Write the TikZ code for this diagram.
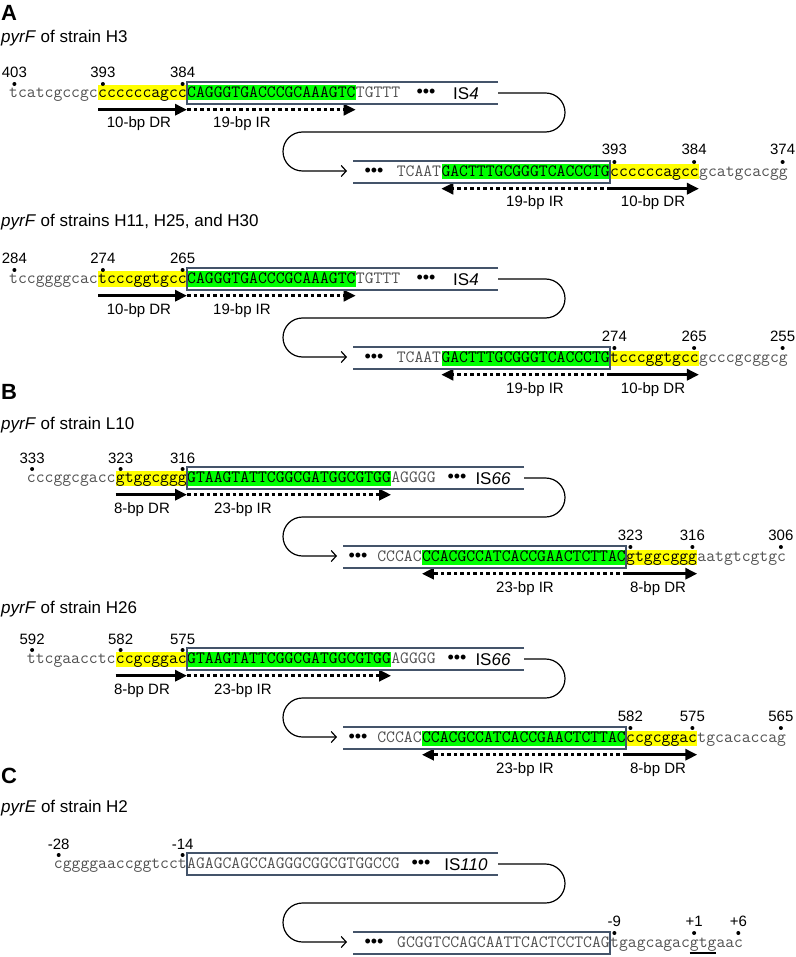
\documentclass[tikz,border=0pt]{standalone}
\usepackage{fontspec}
\setmainfont{Liberation Sans}
\usetikzlibrary{arrows.meta,positioning}
\definecolor{hlyellow}{RGB}{255,255,0}
\definecolor{hlgreen}{RGB}{0,255,0}
\definecolor{isblue}{RGB}{68,84,106}
\definecolor{flankgray}{RGB}{80,80,80}
\def\chw{8.85}
\newcommand{\seqfont}{\fontsize{17.2}{18}\ttfamily}

\begin{document}
\begin{tikzpicture}[x=1pt, y=-1pt,
    seq/.style={font=\seqfont, inner sep=0pt, text height=12pt, text depth=3pt, anchor=west},
    flank/.style={seq, text=flankgray},
    hly/.style={seq, fill=hlyellow, minimum width=#1*\chw},
    hlg/.style={seq, fill=hlgreen, minimum width=#1*\chw},
    ellip/.style={font=\fontsize{18}{18}\selectfont, inner sep=0pt},
    isname/.style={font=\fontsize{17}{18}\selectfont, inner sep=0pt},
    num/.style={font=\fontsize{15}{16}\selectfont, inner sep=0pt, anchor=base},
    pdot/.style={circle, fill, inner sep=0pt, minimum size=4pt},
    lab/.style={font=\fontsize{15}{16}\selectfont, inner sep=0pt, anchor=base},
    title/.style={font=\fontsize{17}{18}\selectfont, inner sep=0pt, anchor=base west},
    panel/.style={font=\fontsize{22}{22}\selectfont\bfseries, inner sep=0pt, anchor=base west},
    boxline/.style={draw=isblue, line width=1.4pt},
    loopline/.style={line width=1.2pt, rounded corners=19.5pt, -{Straight Barb[length=5pt, width=11pt]}},
    drarrow/.style={line width=3pt, -{Triangle[length=12pt, width=11pt]}},
    irarrow/.style={drarrow, dash pattern=on 3.5pt off 3pt}]
  \useasboundingbox (0,0) rectangle (795,957);

  % ---- A ----
  \node[panel] (pa) at (1,21) {A};
  \node[title] (ta1) at (1,43) {\textit{pyrF} of strain H3};
  \node[hlg=19] (a1ir) at (187,93) {CAGGGTGACCCGCAAAGTC};
  \node[hly=10, left=0pt of a1ir] (a1dr) {ccccccagcc};
  \node[flank, left=0pt of a1dr] (a1fl) {tcatcgccgc};
  \node[flank, right=0pt of a1ir] (a1tl) {TGTTT};
  \node[ellip] (a1dt) at (426,93) {•••};
  \node[isname] (a1is) at (466,94) {IS\textit{4}};
  \node[hlg=19, anchor=east] (a1bir) at (610,172) {GACTTTGCGGGTCACCCTG};
  \node[flank, left=0pt of a1bir] (a1btl) {TCAAT};
  \node[ellip] (a1bdt) at (374,172) {•••};
  \node[hly=10, right=0pt of a1bir] (a1bdr) {ccccccagcc};
  \node[flank, right=0pt of a1bdr] (a1bfl) {gcatgcacgg};
  \foreach \x/\t [count=\i] in {14.4/403, 102.9/393, 182.6/384}{
    \node[pdot] (a1d\i) at (\x,84) {};
    \node[num] (a1n\i) at (\x,78) {\t};}
  \foreach \x/\t [count=\i] in {614.4/393, 694.1/384, 782.6/374}{
    \node[pdot] (a1bd\i) at (\x,162) {};
    \node[num] (a1bn\i) at (\x,155) {\t};}
  \draw[drarrow] ([yshift=-9pt]a1dr.south west) -- ([yshift=-9pt]a1dr.south east);
  \draw[irarrow] ([yshift=-9pt]a1ir.south west) -- ([yshift=-9pt]a1ir.south east);
  \draw[irarrow] ([yshift=-9pt]a1bir.south east) -- ([yshift=-9pt]a1bir.south west);
  \draw[drarrow] ([yshift=-9pt]a1bdr.south west) -- ([yshift=-9pt]a1bdr.south east);
  \node[lab] (a1drl) at (139,128) {10-bp DR};
  \node[lab] (a1irl) at (242,128) {19-bp IR};
  \node[lab] (a1birl) at (535,207) {19-bp IR};
  \node[lab] (a1bdrl) at (653,207) {10-bp DR};

  \node[title] (ta2) at (1,227) {\textit{pyrF} of strains H11, H25, and H30};
  \node[hlg=19] (a2ir) at (187,279) {CAGGGTGACCCGCAAAGTC};
  \node[hly=10, left=0pt of a2ir] (a2dr) {tcccggtgcc};
  \node[flank, left=0pt of a2dr] (a2fl) {tccggggcac};
  \node[flank, right=0pt of a2ir] (a2tl) {TGTTT};
  \node[ellip] (a2dt) at (426,279) {•••};
  \node[isname] (a2is) at (466,280) {IS\textit{4}};
  \node[hlg=19, anchor=east] (a2bir) at (610,358) {GACTTTGCGGGTCACCCTG};
  \node[flank, left=0pt of a2bir] (a2btl) {TCAAT};
  \node[ellip] (a2bdt) at (374,358) {•••};
  \node[hly=10, right=0pt of a2bir] (a2bdr) {tcccggtgcc};
  \node[flank, right=0pt of a2bdr] (a2bfl) {gcccgcggcg};
  \foreach \x/\t [count=\i] in {14.4/284, 102.9/274, 182.6/265}{
    \node[pdot] (a2d\i) at (\x,270) {};
    \node[num] (a2n\i) at (\x,264) {\t};}
  \foreach \x/\t [count=\i] in {614.4/274, 694.1/265, 782.6/255}{
    \node[pdot] (a2bd\i) at (\x,348) {};
    \node[num] (a2bn\i) at (\x,341) {\t};}
  \draw[drarrow] ([yshift=-9pt]a2dr.south west) -- ([yshift=-9pt]a2dr.south east);
  \draw[irarrow] ([yshift=-9pt]a2ir.south west) -- ([yshift=-9pt]a2ir.south east);
  \draw[irarrow] ([yshift=-9pt]a2bir.south east) -- ([yshift=-9pt]a2bir.south west);
  \draw[drarrow] ([yshift=-9pt]a2bdr.south west) -- ([yshift=-9pt]a2bdr.south east);
  \node[lab] (a2drl) at (139,314) {10-bp DR};
  \node[lab] (a2irl) at (242,314) {19-bp IR};
  \node[lab] (a2birl) at (535,393) {19-bp IR};
  \node[lab] (a2bdrl) at (653,393) {10-bp DR};

  % ---- B ----
  \node[panel] (pb) at (1,399) {B};
  \node[title] (tb1) at (1,429) {\textit{pyrF} of strain L10};
  \node[hlg=23] (b1ir) at (187,478) {GTAAGTATTCGGCGATGGCGTGG};
  \node[hly=8, left=0pt of b1ir] (b1dr) {gtggcggg};
  \node[flank, left=0pt of b1dr] (b1fl) {cccggcgacc};
  \node[flank, right=0pt of b1ir] (b1tl) {AGGGG};
  \node[ellip] (b1dt) at (457,478) {•••};
  \node[isname] (b1is) at (493,479) {IS\textit{66}};
  \node[hlg=23, anchor=east] (b1bir) at (626,557) {CCACGCCATCACCGAACTCTTAC};
  \node[flank, left=0pt of b1bir] (b1btl) {CCCAC};
  \node[ellip] (b1bdt) at (358,557) {•••};
  \node[hly=8, right=0pt of b1bir] (b1bdr) {gtggcggg};
  \node[flank, right=0pt of b1bdr] (b1bfl) {aatgtcgtgc};
  \foreach \x/\t [count=\i] in {32.1/333, 120.6/323, 182.6/316}{
    \node[pdot] (b1d\i) at (\x,469) {};
    \node[num] (b1n\i) at (\x,463) {\t};}
  \foreach \x/\t [count=\i] in {630.4/323, 692.4/316, 780.9/306}{
    \node[pdot] (b1bd\i) at (\x,547) {};
    \node[num] (b1bn\i) at (\x,540) {\t};}
  \draw[drarrow] ([yshift=-9pt]b1dr.south west) -- ([yshift=-9pt]b1dr.south east);
  \draw[irarrow] ([yshift=-9pt]b1ir.south west) -- ([yshift=-9pt]b1ir.south east);
  \draw[irarrow] ([yshift=-9pt]b1bir.south east) -- ([yshift=-9pt]b1bir.south west);
  \draw[drarrow] ([yshift=-9pt]b1bdr.south west) -- ([yshift=-9pt]b1bdr.south east);
  \node[lab] (b1drl) at (142,513) {8-bp DR};
  \node[lab] (b1irl) at (243,513) {23-bp IR};
  \node[lab] (b1birl) at (525,592) {23-bp IR};
  \node[lab] (b1bdrl) at (658,592) {8-bp DR};

  \node[title] (tb2) at (1,613) {\textit{pyrF} of strain H26};
  \node[hlg=23] (b2ir) at (187,659) {GTAAGTATTCGGCGATGGCGTGG};
  \node[hly=8, left=0pt of b2ir] (b2dr) {ccgcggac};
  \node[flank, left=0pt of b2dr] (b2fl) {ttcgaacctc};
  \node[flank, right=0pt of b2ir] (b2tl) {AGGGG};
  \node[ellip] (b2dt) at (457,659) {•••};
  \node[isname] (b2is) at (493,660) {IS\textit{66}};
  \node[hlg=23, anchor=east] (b2bir) at (626,738) {CCACGCCATCACCGAACTCTTAC};
  \node[flank, left=0pt of b2bir] (b2btl) {CCCAC};
  \node[ellip] (b2bdt) at (358,738) {•••};
  \node[hly=8, right=0pt of b2bir] (b2bdr) {ccgcggac};
  \node[flank, right=0pt of b2bdr] (b2bfl) {tgcacaccag};
  \foreach \x/\t [count=\i] in {32.1/592, 120.6/582, 182.6/575}{
    \node[pdot] (b2d\i) at (\x,650) {};
    \node[num] (b2n\i) at (\x,644) {\t};}
  \foreach \x/\t [count=\i] in {630.4/582, 692.4/575, 780.9/565}{
    \node[pdot] (b2bd\i) at (\x,728) {};
    \node[num] (b2bn\i) at (\x,721) {\t};}
  \draw[drarrow] ([yshift=-9pt]b2dr.south west) -- ([yshift=-9pt]b2dr.south east);
  \draw[irarrow] ([yshift=-9pt]b2ir.south west) -- ([yshift=-9pt]b2ir.south east);
  \draw[irarrow] ([yshift=-9pt]b2bir.south east) -- ([yshift=-9pt]b2bir.south west);
  \draw[drarrow] ([yshift=-9pt]b2bdr.south west) -- ([yshift=-9pt]b2bdr.south east);
  \node[lab] (b2drl) at (142,694) {8-bp DR};
  \node[lab] (b2irl) at (243,694) {23-bp IR};
  \node[lab] (b2birl) at (525,773) {23-bp IR};
  \node[lab] (b2bdrl) at (658,773) {8-bp DR};

  % ---- C ----
  \node[panel] (pc) at (1,783) {C};
  \node[title] (tc) at (1,812) {\textit{pyrE} of strain H2};
  \node[flank] (cis) at (187,864) {AGAGCAGCCAGGGCGGCGTGGCCG};
  \node[flank, left=0pt of cis] (cfl) {cggggaaccggtcct};
  \node[ellip] (cdt) at (421,864) {•••};
  \node[isname] (cisn) at (466,865) {IS\textit{110}};
  \node[flank, anchor=east] (cbis) at (610,943) {GCGGTCCAGCAATTCACTCCTCAG};
  \node[ellip] (cbdt) at (374,943) {•••};
  \node[flank, right=0pt of cbis] (cbfl) {tgagcagacgtgaac};
  \draw[line width=1.1pt] ([xshift=79.65pt, yshift=-5.5pt]cbfl.base west) -- ([xshift=106.2pt, yshift=-5.5pt]cbfl.base west);
  \foreach \x/\t [count=\i] in {58.7/-28, 182.6/-14}{
    \node[pdot] (cd\i) at (\x,855) {};
    \node[num] (cn\i) at (\x,849) {\t};}
  \foreach \x/\t [count=\i] in {614.4/-9, 694.1/+1, 738.3/+6}{
    \node[pdot] (cbd\i) at (\x,933) {};
    \node[num] (cbn\i) at (\x,926) {\t};}

  % IS boxes and loops
  \foreach \r/\y/\xr/\xbl/\xbr in {a1/93/498/353/610, a2/279/498/353/610,
      b1/478/524/343/626, b2/659/524/343/626, c/864/498/353/610}{
    \coordinate (\r-out) at (\xr,\y);
    \coordinate (\r-in) at (\xbl-6,\y+78);
    \draw[boxline] (\xr,\y-11) -- (187,\y-11) -- (187,\y+11) -- (\xr,\y+11);
    \draw[boxline] (\xbl,\y+68) -- (\xbr,\y+68) -- (\xbr,\y+90) -- (\xbl,\y+90);
    \draw[loopline] (\r-out) -- (565,\y) -- (565,\y+39) -- (283,\y+39) -- (283,\y+78) -- (\r-in);
  }
\end{tikzpicture}
\end{document}
